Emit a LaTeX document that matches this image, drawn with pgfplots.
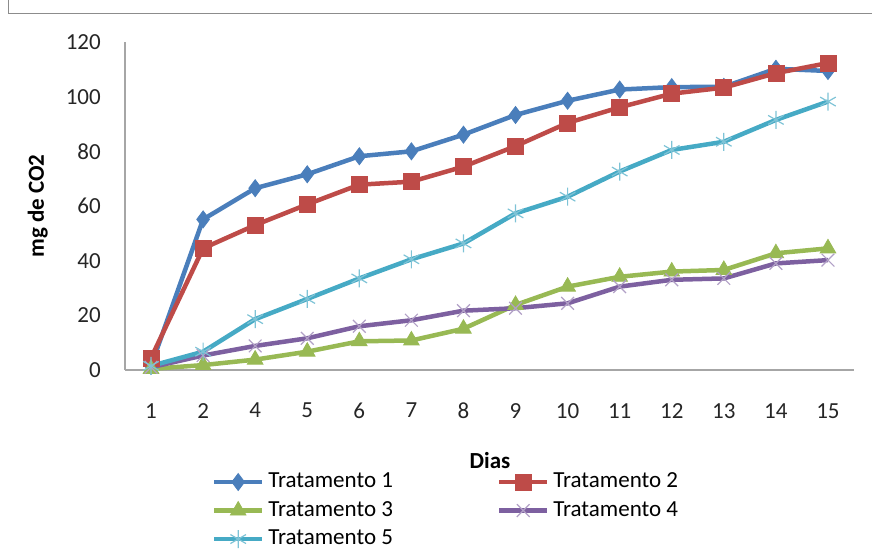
\documentclass[border=0pt]{standalone}
\usepackage{fontspec}
\setmainfont{Carlito}
\usepackage{pgfplots}
\pgfplotsset{compat=1.18}

\definecolor{tA}{HTML}{4A7EBB}
\definecolor{tB}{HTML}{BE4B48}
\definecolor{tC}{HTML}{98B954}
\definecolor{tD}{HTML}{7D60A0}
\definecolor{tE}{HTML}{46AAC5}
\definecolor{frame}{HTML}{8C8C8C}
\definecolor{axisgray}{HTML}{A6A6A6}

\newcommand{\chartfont}{\fontsize{23bp}{27bp}\selectfont}

% Dias (position index) versus mg de CO2
\pgfplotstableread{
i  t1    t2    t3    t4    t5
0  1.5   4.4   0.4   1.0   1.5
1  55.1  44.5  1.8   5.3   6.7
2  66.5  53.0  3.8   8.8   18.6
3  71.6  60.6  6.7   11.6  26.0
4  78.2  67.8  10.5  16.0  33.5
5  80.0  68.9  10.8  18.2  40.5
6  86.1  74.4  15.1  21.7  46.3
7  93.3  81.9  23.8  22.6  57.3
8  98.5  90.4  30.5  24.4  63.4
9  102.6 96.1  34.1  30.5  72.6
10 103.5 101.1 36.0  33.0  80.5
11 103.6 103.3 36.6  33.5  83.5
12 110.2 108.6 42.7  39.0  91.5
13 109.4 112.3 44.5  40.2  98.2
}\datatable

\begin{document}
\chartfont
\begin{tikzpicture}
\clip (0bp,0bp) rectangle (872bp,549bp);
% chart frame
\draw[frame,line width=1.6bp] (8.5bp,590bp) -- (8.5bp,535.5bp) -- (900bp,535.5bp);
\begin{axis}[
  at={(125bp,179bp)}, anchor=south west,
  scale only axis, width=729bp, height=328bp,
  xmin=-0.5, xmax=13.5, ymin=0, ymax=120,
  axis lines*=left,
  axis line style={axisgray, line width=1.3bp},
  xtick={0,...,13},
  xticklabels={1,2,4,5,6,7,8,9,10,11,12,13,14,15},
  ytick={0,20,...,120},
  major tick length=0pt,
  /pgf/number format/assume math mode=true,
  tick label style={font=\chartfont, text=black!85},
  yticklabel style={anchor=east, inner sep=0pt, xshift=-24bp},
  xticklabel style={anchor=north, inner sep=0pt, yshift=-33bp},
  xlabel={\bfseries Dias},
  xlabel style={at={(axis description cs:0.5007,-0.277)}, anchor=center, font=\chartfont},
  ylabel={\bfseries mg de CO2},
  ylabel style={at={(axis description cs:-0.1197,0.5)}, anchor=center, font=\chartfont},
  clip=false,
  every axis plot/.append style={line width=4.5bp},
  legend columns=2,
  legend cell align=left,
  legend style={
    at={(axis description cs:0.119,-0.309)}, anchor=north west,
    draw=none, fill=none, inner sep=0pt,
    font=\chartfont,
    row sep=7.5bp,
    /tikz/every even column/.append style={column sep=104bp},
    nodes={inner sep=0pt, text height=16bp, text depth=5bp},
  },
  legend image code/.code={
    \draw[mark repeat=2,mark phase=2] plot coordinates {(0bp,0bp) (24bp,0bp) (48bp,0bp)};
  },
]
\addplot[tA, mark=diamond*, mark size=8.5bp, mark options={solid, line width=0.8bp, fill=tA}]
  table[x=i, y=t1] {\datatable};
\addlegendentry{\,Tratamento 1}
\addplot[tB, mark=square*, mark size=8bp, mark options={solid, line width=0.8bp, fill=tB}]
  table[x=i, y=t2] {\datatable};
\addlegendentry{\,Tratamento 2}
\addplot[tC, mark=triangle*, mark size=9bp, mark options={solid, line width=0.8bp, fill=tC}]
  table[x=i, y=t3] {\datatable};
\addlegendentry{\,Tratamento 3}
\addplot[tD, mark=x, mark size=9bp, mark options={solid, line width=1.2bp, draw=tD!60}]
  table[x=i, y=t4] {\datatable};
\addlegendentry{\,Tratamento 4}
\addplot[tE, mark=asterisk, mark size=9bp, mark options={solid, line width=1.2bp, draw=tE!70}]
  table[x=i, y=t5] {\datatable};
\addlegendentry{\,Tratamento 5}
\end{axis}
\end{tikzpicture}
\end{document}
